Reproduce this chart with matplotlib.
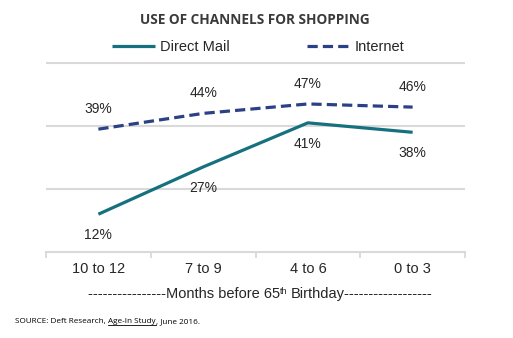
"""Use of channels for shopping before 65th birthday"""

import matplotlib
matplotlib.use("Agg")
import matplotlib.pyplot as plt
import numpy as np

plt.rcParams['font.family'] = ['Liberation Sans', 'DejaVu Sans']

# data
categories = ["10 to 12", "7 to 9", "4 to 6", "0 to 3"]
direct_mail = [12, 27, 41, 38]
internet = [39, 44, 47, 46]

teal = '#16717F'
navy = '#2B4186'
grid_gray = '#D9D9D9'
text_dark = '#262626'

W, H = 513, 338
fig = plt.figure(figsize=(W / 100, H / 100), dpi=100)
ax = fig.add_axes([46 / W, 1 - 252 / H, 419 / W, 61 * 3.15 / H])

x = np.arange(len(categories))
ax.plot(x, direct_mail, color=teal, linewidth=2.3, label="Direct Mail",
        solid_capstyle='butt')
ax.plot(x, internet, color=navy, linewidth=2.3, linestyle=(0, (3.2, 1.6)),
        label="Internet", dash_capstyle='butt')

# value labels: internet above, direct mail below
for xi, v in zip(x, internet):
    ax.annotate("{}%".format(v), (xi, v), xytext=(0, 14.5),
                textcoords='offset points', ha='center', va='center',
                fontsize=10, color=text_dark)
for xi, v in zip(x, direct_mail):
    ax.annotate("{}%".format(v), (xi, v), xytext=(0, -15),
                textcoords='offset points', ha='center', va='center',
                fontsize=10, color=text_dark)

ax.set_xlim(-0.5, len(categories) - 0.5)
ax.set_ylim(0, 61)
ax.set_yticks([20, 40, 60])
ax.yaxis.grid(True, color=grid_gray, linewidth=1.5)
ax.set_axisbelow(True)
ax.tick_params(axis='y', left=False, labelleft=False)

ax.set_xticks(x)
ax.set_xticklabels(categories, fontsize=10.5, color=text_dark)
ax.set_xticks(np.arange(-0.5, len(categories)), minor=True)
ax.tick_params(axis='x', which='major', length=0, pad=7.5)
ax.tick_params(axis='x', which='minor', length=4, width=1.3, color=grid_gray)

for side in ['top', 'right', 'left']:
    ax.spines[side].set_visible(False)
ax.spines['bottom'].set_color(grid_gray)
ax.spines['bottom'].set_linewidth(1.5)

fig.text(0.497, 1 - 20 / H, "USE OF CHANNELS FOR SHOPPING",
         family='Open Sans', fontweight='bold', fontsize=9.8,
         color='#3A3A3A', ha='center', va='center')

fig.legend(loc='center', bbox_to_anchor=(0.503, 1 - 47 / H), ncol=2,
           frameon=False, fontsize=10.5, handlelength=3.0,
           columnspacing=5.3, handletextpad=0.3, labelcolor=text_dark)

fig.canvas.draw()
renderer = fig.canvas.get_renderer()


def text_run(parts, x0, y0, center=False):
    """Place text pieces one after another, in pixels.
    parts: (string, size, raise_px, gap_px, underline, kwargs)"""
    arts = []
    x_px = x0
    for s, size, rise, gap, under, kw in parts:
        x_px += gap
        t = fig.text(x_px / W, (y0 + rise) / H, s, fontsize=size,
                     va='baseline', ha='left', **kw)
        bb = t.get_window_extent(renderer)
        arts.append((t, bb, under, kw))
        x_px = bb.x1
    shift = (x_px - x0) / 2 if center else 0
    for t, bb, under, kw in arts:
        t.set_x((bb.x0 - shift) / W)
        if under:
            fig.add_artist(plt.Line2D(
                [(bb.x0 - shift) / W, (bb.x1 - shift) / W],
                [(y0 - 1.6) / H] * 2, color=kw.get('color', 'black'),
                linewidth=0.6))


# axis caption with superscript
cap_kw = dict(color=text_dark)
text_run([("----------------Months before 65", 10.5, 0, 0, False, cap_kw),
          ("th", 6.5, 4.5, 0.5, False, cap_kw),
          ("Birthday------------------", 10.5, 0, 3, False, cap_kw)],
         260, H - 298, center=True)

# source line with underlined study name
src_kw = dict(family='Open Sans', color='black')
text_run([("SOURCE: Deft Research, ", 5.9, 0, 0, False, src_kw),
          ("Age-In Study", 5.9, 0, 0, True, src_kw),
          (", June 2016.", 5.9, 0, 0, False, src_kw)],
         15, H - 323)

fig.savefig("out.png", dpi=100)
